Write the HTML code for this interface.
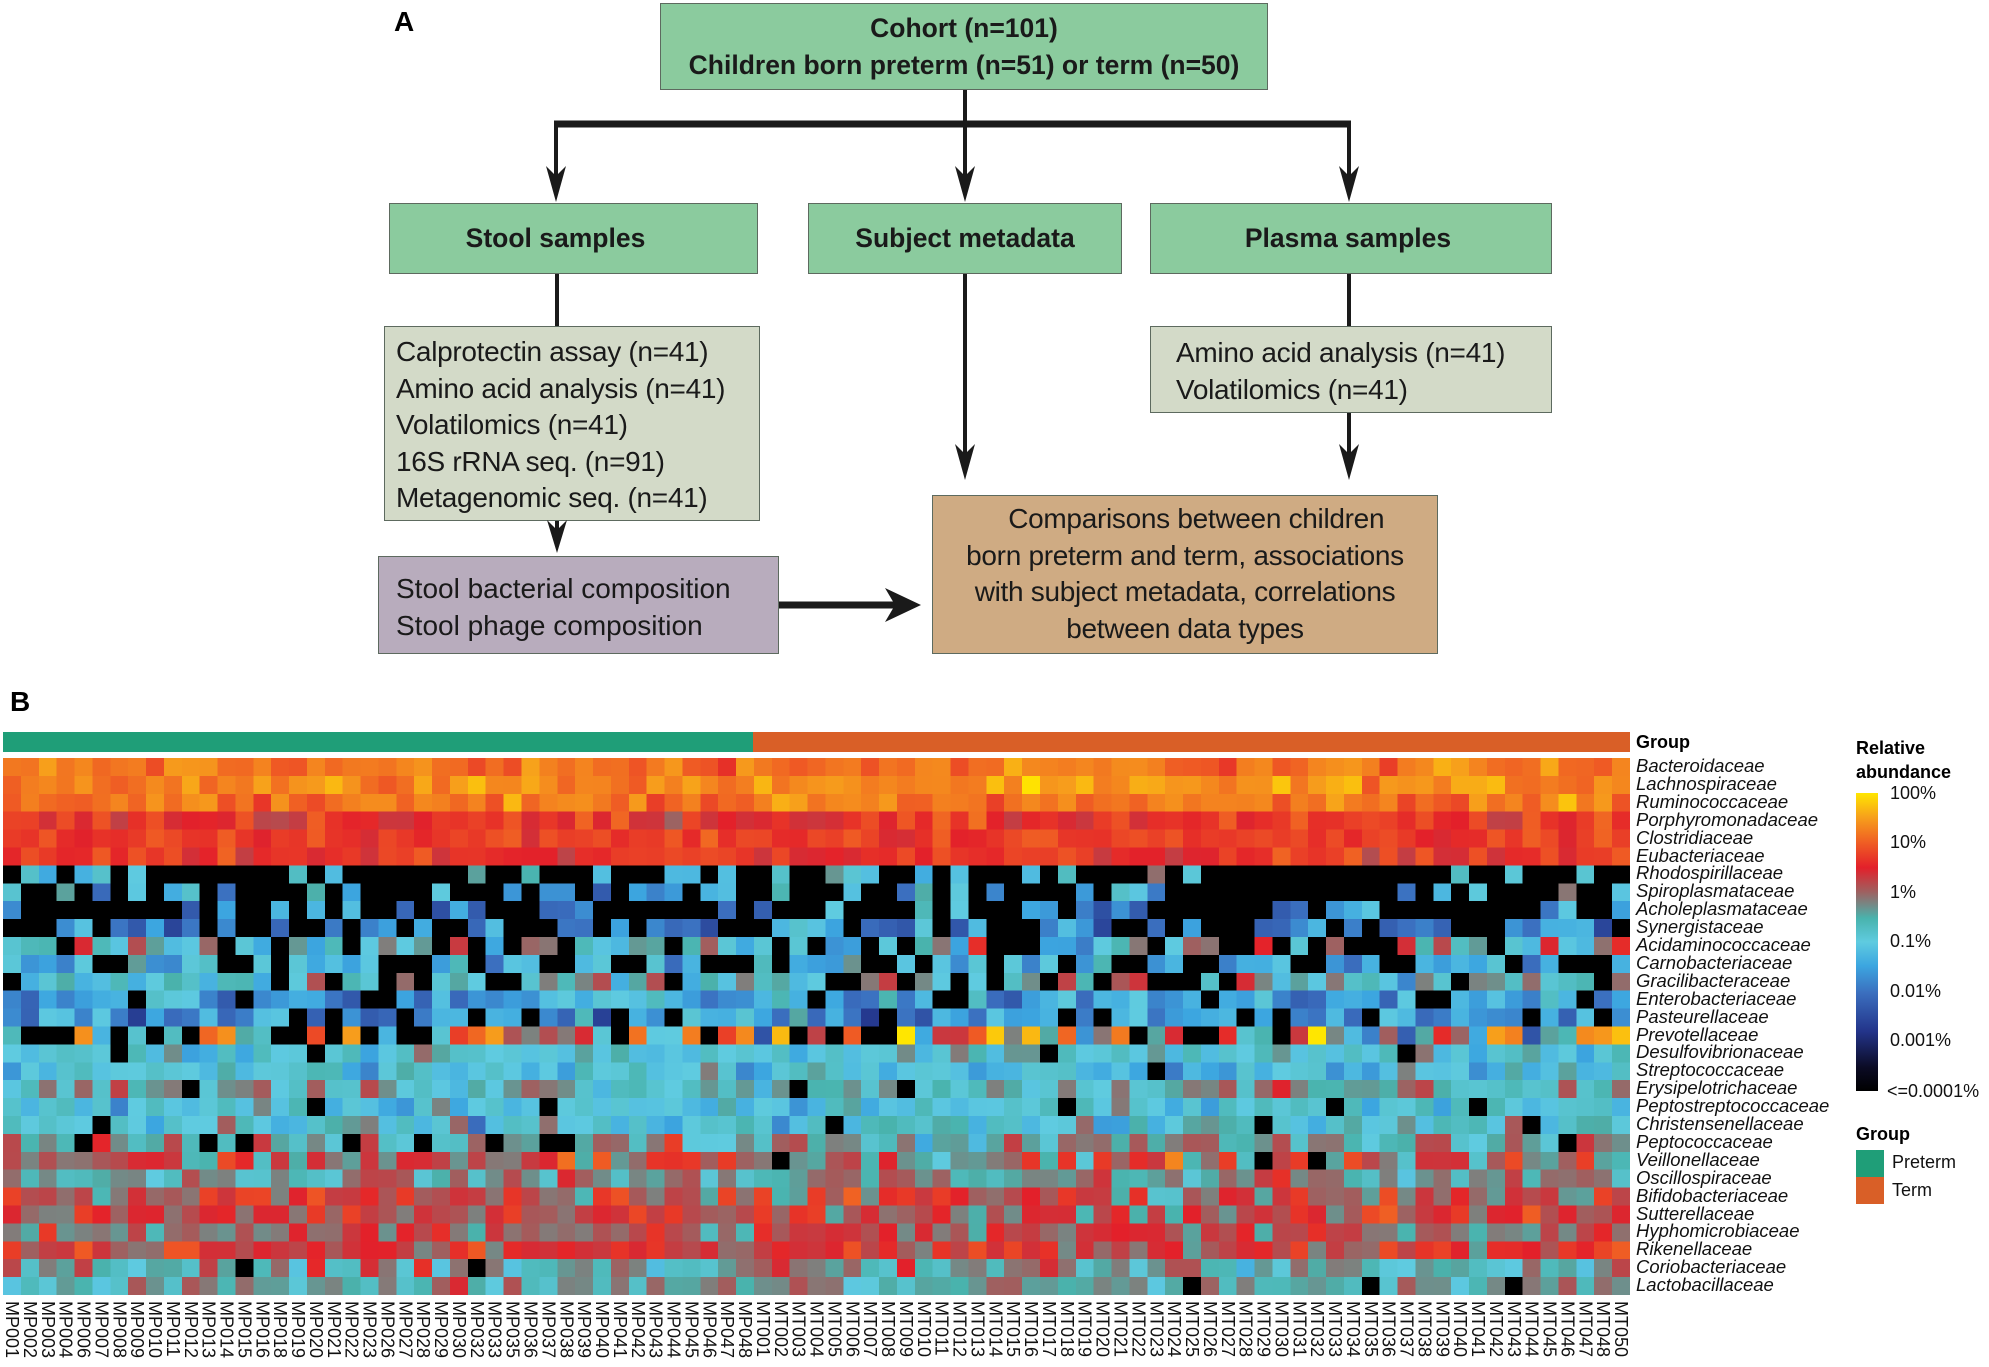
<!DOCTYPE html>
<html><head><meta charset="utf-8">
<style>
html,body{margin:0;padding:0;background:#fff}
body{width:1989px;height:1367px;position:relative;overflow:hidden;font-family:"Liberation Sans",sans-serif}
.box{position:absolute;box-sizing:border-box;border:1.5px solid #5d6a5f;color:#1a1a1a;font-size:28px;line-height:36.5px}
.g{background:#8bcb9e;font-weight:bold;font-size:26.5px}
.c{text-align:center}
.gr{background:#d3dac8}
.pu{background:#b8acbd}
.br{background:#cfab83}
.lab{position:absolute;font-weight:bold}
.rl{position:absolute;left:1636px;font-style:italic;font-size:18.5px;line-height:17.9px;color:#111}
.cl{position:absolute;top:1301px;font-size:18px;line-height:18px;writing-mode:vertical-rl;color:#111}
.lg{position:absolute;font-size:18px;color:#111}
</style></head><body>
<div class="lab" style="left:394px;top:6px;font-size:28px">A</div>
<div class="lab" style="left:10px;top:686px;font-size:28px">B</div>

<div class="box g c" style="left:660px;top:3px;width:608px;height:87px;padding-top:6px">Cohort (n=101)<br>Children born preterm (n=51) or term (n=50)</div>
<div class="box g c" style="left:389px;top:203px;width:369px;height:71px;line-height:68px;padding-right:36px">Stool samples</div>
<div class="box g c" style="left:808px;top:203px;width:314px;height:71px;line-height:68px">Subject metadata</div>
<div class="box g c" style="left:1150px;top:203px;width:402px;height:71px;line-height:68px;padding-right:6px">Plasma samples</div>
<div class="box gr" style="left:384px;top:326px;width:376px;height:195px;padding:7px 0 0 11px;letter-spacing:-0.3px">Calprotectin assay (n=41)<br>Amino acid analysis (n=41)<br>Volatilomics (n=41)<br>16S rRNA seq. (n=91)<br>Metagenomic seq. (n=41)</div>
<div class="box gr" style="left:1150px;top:326px;width:402px;height:87px;padding:8px 0 0 25px;letter-spacing:-0.3px">Amino acid analysis (n=41)<br>Volatilomics (n=41)</div>
<div class="box pu" style="left:378px;top:556px;width:401px;height:98px;padding:14px 0 0 17px">Stool bacterial composition<br>Stool phage composition</div>
<div class="box br c" style="left:932px;top:495px;width:506px;height:159px;padding-top:5px;letter-spacing:-0.3px">&nbsp;&nbsp;&nbsp;Comparisons between children<br>born preterm and term, associations<br>with subject metadata, correlations<br>between data types</div>

<svg style="position:absolute;left:0;top:0" width="1989" height="700">
<g stroke="#1a1a1a" fill="none" stroke-linecap="butt">
<line x1="965" y1="90" x2="965" y2="124" stroke-width="4"/>
<line x1="554" y1="124" x2="1351" y2="124" stroke-width="7"/>
<line x1="556" y1="124" x2="556" y2="180" stroke-width="4"/>
<line x1="965" y1="124" x2="965" y2="180" stroke-width="4"/>
<line x1="1349" y1="124" x2="1349" y2="180" stroke-width="4"/>
<line x1="557" y1="274" x2="557" y2="326" stroke-width="4"/>
<line x1="965" y1="274" x2="965" y2="455" stroke-width="4"/>
<line x1="1349" y1="274" x2="1349" y2="326" stroke-width="4"/>
<line x1="1349" y1="413" x2="1349" y2="455" stroke-width="4"/>
<line x1="557" y1="521" x2="557" y2="535" stroke-width="4"/>
<line x1="779" y1="605" x2="900" y2="605" stroke-width="7"/>
</g>
<g fill="#1a1a1a">
<path d="M556 202 L546 166 L556 176 L566 166 Z"/>
<path d="M965 202 L955 166 L965 176 L975 166 Z"/>
<path d="M1349 202 L1339 166 L1349 176 L1359 166 Z"/>
<path d="M965 480 L955 444 L965 454 L975 444 Z"/>
<path d="M1349 480 L1339 444 L1349 454 L1359 444 Z"/>
<path d="M557 553 L547 520 L557 530 L567 520 Z"/>
<path d="M921 605 L885 588 L895 605 L885 622 Z"/>
</g>
</svg>

<div style="position:absolute;left:3px;top:732px;width:750px;height:20px;background:#1f9e78"></div>
<div style="position:absolute;left:753px;top:732px;width:877px;height:20px;background:#d95f27"></div>
<div class="lab" style="left:1636px;top:732px;font-size:18px">Group</div>
<svg id="hm" style="position:absolute;left:3px;top:758px" width="1627" height="537" shape-rendering="crispEdges"></svg>
<div id="rows"></div>
<div id="cols"></div>

<div class="lab" style="left:1856px;top:736px;font-size:18px;line-height:24px">Relative<br>abundance</div>
<div style="position:absolute;left:1856px;top:793px;width:22px;height:298px;background:linear-gradient(#ffe600 0%,#f7a11b 8%,#ef5b24 17%,#e3202a 25%,#a05f5f 33%,#49b3ad 42%,#5fcbe0 50%,#3ca6e0 58%,#3b6fbf 67%,#23348a 80%,#0b0b25 92%,#000 100%)"></div>
<div class="lg" style="left:1890px;top:783px">100%</div>
<div class="lg" style="left:1890px;top:832px">10%</div>
<div class="lg" style="left:1890px;top:882px">1%</div>
<div class="lg" style="left:1890px;top:931px">0.1%</div>
<div class="lg" style="left:1890px;top:981px">0.01%</div>
<div class="lg" style="left:1890px;top:1030px">0.001%</div>
<div class="lg" style="left:1887px;top:1081px">&lt;=0.0001%</div>
<div class="lab" style="left:1856px;top:1124px;font-size:18px">Group</div>
<div style="position:absolute;left:1856px;top:1150px;width:28px;height:27px;background:#1f9e78"></div>
<div style="position:absolute;left:1856px;top:1177px;width:28px;height:27px;background:#d95f27"></div>
<div class="lg" style="left:1892px;top:1152px">Preterm</div>
<div class="lg" style="left:1892px;top:1180px">Term</div>

<script>
var rows=[["Bacteroidaceae",1.2,.35,0],["Lachnospiraceae",1.4,.3,0],["Ruminococcaceae",1.25,.3,0],["Porphyromonadaceae",.6,.35,0],["Clostridiaceae",.75,.25,0],["Eubacteriaceae",.65,.3,0],
["Rhodospirillaceae",-1,.6,.7],["Spiroplasmataceae",-1.3,.8,.65],["Acholeplasmataceae",-1.6,.8,.6],["Synergistaceae",-1.8,.7,.45],["Acidaminococcaceae",-.5,.8,.3],["Carnobacteriaceae",-1.2,.6,.3],["Gracilibacteraceae",-.6,.8,.25],["Enterobacteriaceae",-1.5,.7,.12],["Pasteurellaceae",-1.6,.7,.15],["Prevotellaceae",-.5,1.6,.25],
["Desulfovibrionaceae",-.8,.45,.03],["Streptococcaceae",-1,.5,.03],["Erysipelotrichaceae",-.5,.55,.02],["Peptostreptococcaceae",-1,.5,.05],["Christensenellaceae",-.9,.6,.08],["Peptococcaceae",-.4,.6,.06],["Veillonellaceae",.15,.7,.02],["Oscillospiraceae",-.3,.5,0],["Bifidobacteriaceae",.2,.6,0],["Sutterellaceae",.2,.5,0],["Hyphomicrobiaceae",.1,.5,.01],["Rikenellaceae",.4,.5,0],["Coriobacteriaceae",-.4,.6,.01],["Lactobacillaceae",-.4,.5,.01]];
var stops=[[2,[255,230,0]],[1.6,[247,161,27]],[1,[239,91,36]],[.5,[227,32,42]],[0,[160,95,95]],[-.5,[73,179,173]],[-1,[95,203,224]],[-1.5,[60,166,224]],[-2,[59,111,191]],[-3,[35,52,138]],[-3.6,[11,11,37]],[-4,[0,0,0]]];
function col(v){if(v>=2)v=2;if(v<=-4)return"rgb(0,0,0)";for(var i=0;i<stops.length-1;i++){var a=stops[i],b=stops[i+1];if(v<=a[0]&&v>=b[0]){var t=(a[0]-v)/(a[0]-b[0]);return"rgb("+a[1].map(function(x,k){return Math.round(x+(b[1][k]-x)*t)}).join(",")+")";}}return"#000";}
var s=12345;function r(){s=(s*1103515245+12345)%2147483648;return s/2147483648;}
function g(){return (r()+r()+r()-1.5)*1.4;}
var N=91,cw=1627/N,rh=537/30,h="";
rows.forEach(function(row,i){for(var j=0;j<N;j++){var v=row[1]+g()*row[2];if(r()<row[3])v=-4;if(i==15&&r()<.15)v=1+r()*.9;
h+='<rect x="'+(j*cw).toFixed(2)+'" y="'+(i*rh).toFixed(2)+'" width="'+(cw+.6).toFixed(2)+'" height="'+(rh+.6).toFixed(2)+'" fill="'+col(v)+'"/>';}});
document.getElementById("hm").innerHTML=h;
var rl="";rows.forEach(function(row,i){rl+='<div class="rl" style="top:'+(758+i*rh-1).toFixed(1)+'px">'+row[0]+'</div>';});
document.getElementById("rows").innerHTML=rl;
var mp=[1,2,3,4,6,7,8,9,10,11,12,13,14,15,16,18,19,20,21,22,23,26,27,28,29,30,32,33,35,36,37,38,39,40,41,42,43,44,45,46,47,48];
var labs=mp.map(function(n){return"MP"+("00"+n).slice(-3)});
for(var k=1;k<=50;k++)if(k!=49)labs.push("MT"+("00"+k).slice(-3));
var cl="";labs.forEach(function(l,j){cl+='<div class="cl" style="left:'+(3+j*cw).toFixed(1)+'px">'+l+'</div>';});
document.getElementById("cols").innerHTML=cl;
</script>
</body></html>
